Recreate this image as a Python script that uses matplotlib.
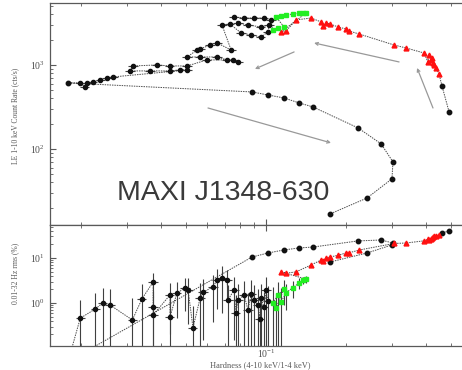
import matplotlib
matplotlib.use("Agg")
import matplotlib.pyplot as plt
from matplotlib.ticker import LogLocator, NullFormatter

plt.rcParams["font.family"] = ["Liberation Serif", "DejaVu Serif"]
plt.rcParams["mathtext.fontset"] = "stix"

# hard state rise (first two pointings)
rise_h = [0.4906, 0.4613]
rise_rate = [276, 562]
rise_rms = [39.8, 36.0]

# bright hard-intermediate branch, red
red_h = [0.4497, 0.4382, 0.4305, 0.4266, 0.4232, 0.4198, 0.4121, 0.4083, 0.3945,
         0.3373, 0.3040, 0.2244, 0.2056, 0.2004, 0.1870, 0.1744, 0.1683, 0.1641,
         0.1614, 0.1479, 0.1297, 0.1190, 0.1139]
red_rate = [781, 920, 1000, 1056, 1200, 1148, 1315, 1086, 1389,
            1594, 1730, 2339, 2540, 2682, 2834, 3077, 3162, 2900,
            3251, 3627, 3433, 2540, 2471]
red_rms = [32.4, 31.0, 30.0, 29.0, 28.0, 27.0, 25.0, 26.0, 24.0,
           21.5, 21.0, 15.0, 13.0, 12.9, 11.5, 10.5, 10.0, 8.5,
           9.0, 7.0, 4.9, 4.6, 4.9]

# soft-intermediate, green
green_h = [0.1416, 0.1380, 0.1333, 0.1264, 0.1190, 0.1139, 0.1091, 0.1170, 0.1109, 0.1062]
green_rate = [4159, 4159, 4159, 4046, 3937, 3831, 3727, 2834, 2756, 2610]
green_rms = [3.4, 3.2, 2.8, 2.2, 1.7, 1.05, 0.77, 2.1, 1.5, 1.0]
green_rms_err = [0.6, 0.6, 0.8, 0.9, 1.0, 1.1, 0.9, 1.2, 1.4, 1.3]

# soft state, count rate
soft_h = [0.1044, 0.0982, 0.0901, 0.0826, 0.0757, 0.0784, 0.0855, 0.0957, 0.1026,
          0.1017, 0.0957, 0.0878, 0.0805, 0.0731, 0.0682, 0.0738, 0.0653, 0.0615,
          0.0564, 0.0549, 0.0504, 0.0564, 0.0653, 0.0713, 0.0784, 0.0751, 0.0598,
          0.0504, 0.0434, 0.0388, 0.0315, 0.0307, 0.0365, 0.0434, 0.0473, 0.0504,
          0.0265, 0.0251, 0.0237, 0.0222, 0.0211, 0.0207, 0.0199]
soft_rate = [3433, 3627, 3627, 3627, 3727, 3162, 2994, 2834, 2994,
             2471, 2154, 2276, 2404, 3077, 2994, 1509, 1828, 1730,
             1551, 1509, 1245, 1245, 1245, 1148, 1086, 1148, 1148,
             973, 973, 1000, 973, 849, 849, 849, 872, 872,
             720, 700, 663, 628, 611, 547, 611]

# soft state, rms (only pointings with a timing estimate)
soft_rms_h = [0.0199, 0.0227, 0.0242, 0.0258, 0.0313, 0.0340, 0.0375, 0.0375, 0.0375,
              0.0434, 0.0434, 0.0461, 0.0495, 0.0508, 0.0530, 0.0564, 0.0579, 0.0631,
              0.0653, 0.0682, 0.0713, 0.0719, 0.0757, 0.0770, 0.0784, 0.0826, 0.0855,
              0.0880, 0.0901, 0.0930, 0.0945, 0.0957, 0.0982, 0.1000, 0.1017]
soft_rms = [0.46, 0.74, 1.0, 0.90, 0.42, 1.23, 2.93, 0.81, 0.54,
            1.51, 0.49, 1.67, 2.15, 1.95, 0.28, 1.29, 1.75, 2.27,
            3.25, 3.59, 3.25, 1.17, 1.95, 0.60, 1.17, 1.51, 0.70,
            1.60, 1.17, 0.90, 0.45, 1.30, 0.80, 1.90, 1.10]
soft_rms_err = [0.7, 0.9, 1.2, 1.1, 0.9, 1.4, 1.6, 1.0, 0.9,
                1.3, 0.8, 1.2, 1.5, 1.6, 0.6, 1.5, 1.6, 1.9,
                2.5, 3.0, 2.2, 1.4, 1.8, 0.9, 1.5, 1.6, 1.0,
                1.7, 1.3, 1.1, 0.8, 1.4, 1.0, 1.8, 1.3]

# return to the hard state and decay
decay_h = [0.0179, 0.0885, 0.1017, 0.1170, 0.1333, 0.1504, 0.2223, 0.2716,
           0.3013, 0.2987, 0.2405, 0.1744]
decay_rate = [611, 477, 439, 404, 353, 316, 178, 115, 70, 44, 26, 16.8]
decay_rms = [0.05, 10.5, 12.9, 15.1, 16.7, 17.5, 23.9, 25.1, 21.5, 19.5, 12.9, 8.15]

hard_frac_err = 0.04

# direction of the track: (tail, head) in data units
arrows = [((0.1276, 1429), (0.0908, 896)),
          ((0.3177, 1086), (0.1518, 1828)),
          ((0.4266, 307), (0.3715, 921)),
          ((0.0604, 307), (0.1758, 118))]

W, H = 462, 370
fig = plt.figure(figsize=(W / 100, H / 100), dpi=100)
ax1 = fig.add_axes([50 / W, 1 - 225 / H, 423 / W, 222 / H])
ax2 = fig.add_axes([50 / W, 1 - 346 / H, 423 / W, 121 / H], sharex=ax1)

line_kw = dict(color="0.3", lw=0.7, ls=(0, (1.5, 1.0)), zorder=1)
err_kw = dict(ecolor="0.25", elinewidth=0.8, capsize=0, ls="none", zorder=2)

# count rate vs hardness
track_h = rise_h + red_h + green_h + soft_h + decay_h
track_rate = rise_rate + red_rate + green_rate + soft_rate + decay_rate
ax1.plot(track_h, track_rate, **line_kw)
ax1.errorbar(soft_h, soft_rate, xerr=[h * hard_frac_err for h in soft_h],
             fmt="o", ms=3, mfc="#111111", mec="#111111", **err_kw)
ax1.plot(rise_h + decay_h, rise_rate + decay_rate, "o", ms=3.2, color="#111111", ls="none", zorder=3)
ax1.plot(red_h, red_rate, "^", ms=3.5, color="#ff1010", ls="none", zorder=4)
ax1.plot(green_h, green_rate, "s", ms=3.5, color="#22ee22", ls="none", zorder=5)

for (tail, head) in arrows:
    ax1.annotate("", xy=head, xytext=tail,
                 arrowprops=dict(arrowstyle="->", color="0.6", lw=0.9,
                                 shrinkA=0, shrinkB=0, mutation_scale=5))

# rms vs hardness
soft_rev_h = soft_rms_h[::-1]
soft_rev_rms = soft_rms[::-1]
ax2.plot(rise_h + red_h + green_h + soft_rev_h + decay_h,
         rise_rms + red_rms + green_rms + soft_rev_rms + decay_rms, **line_kw)
ax2.errorbar(soft_rms_h, soft_rms, yerr=soft_rms_err,
             xerr=[h * hard_frac_err for h in soft_rms_h],
             fmt="o", ms=3, mfc="#111111", mec="#111111", **err_kw)
ax2.errorbar(green_h, green_rms, yerr=green_rms_err, fmt="none", **err_kw)
ax2.plot(rise_h + decay_h, rise_rms + decay_rms, "o", ms=3.2, color="#111111", ls="none", zorder=3)
ax2.plot(red_h, red_rms, "^", ms=3.5, color="#ff1010", ls="none", zorder=4)
ax2.plot(green_h, green_rms, "s", ms=3.5, color="#22ee22", ls="none", zorder=5)

ax1.set_xscale("log")
ax1.set_yscale("log")
ax2.set_yscale("log")
ax1.set_xlim(0.0153, 0.604)
ax1.set_ylim(12.4, 5470)
ax2.set_ylim(0.111, 54)

for ax in (ax1, ax2):
    for sp in ax.spines.values():
        sp.set_color("0.35")
        sp.set_linewidth(0.9)
    ax.tick_params(which="both", direction="in", top=True, right=True,
                   color="0.35", labelsize=7, labelcolor="0.3")
    ax.tick_params(which="major", length=4, width=0.8)
    ax.tick_params(which="minor", length=2, width=0.6)
    ax.yaxis.set_minor_locator(LogLocator(base=10, subs=range(2, 10)))
    ax.yaxis.set_minor_formatter(NullFormatter())
ax1.xaxis.set_minor_formatter(NullFormatter())
ax1.tick_params(axis="x", labelbottom=False)
ax2.tick_params(axis="x", pad=1)

fig.text(15 / W, 1 - 116 / H, "LE 1-10 keV Count Rate (cts/s)", rotation=90,
         ha="center", va="center", fontsize=5.5, color="0.35")
fig.text(15 / W, 1 - 273 / H, "0.01-32 Hz rms (%)", rotation=90,
         ha="center", va="center", fontsize=5.5, color="0.35")
fig.text(260 / W, 1 - 365 / H, "Hardness (4-10 keV/1-4 keV)",
         ha="center", va="center", fontsize=6, color="0.35")

fig.text(117 / W, 1 - 200 / H, "MAXI J1348-630", family=["Liberation Sans", "DejaVu Sans"],
         fontsize=20.5, color="#3a3a3a", ha="left", va="baseline")

fig.savefig("out.png", dpi=100)
